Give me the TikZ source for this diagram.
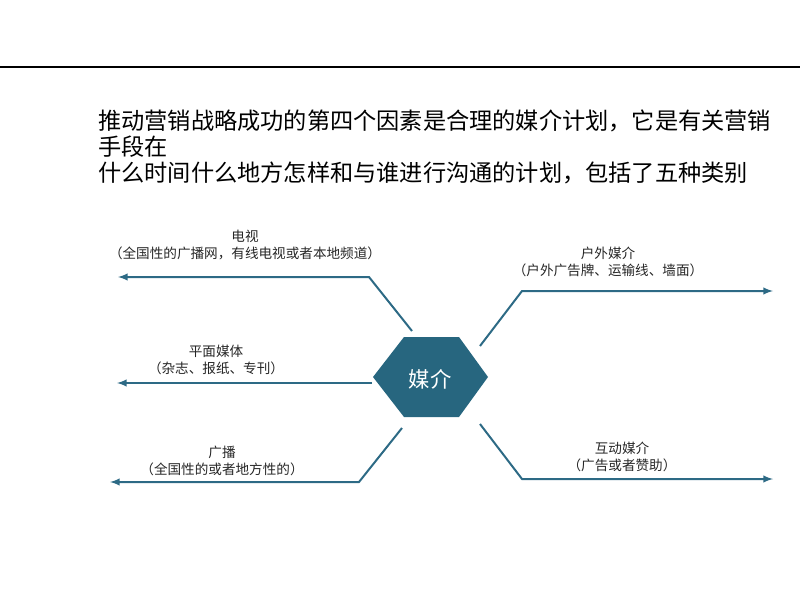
\documentclass[tikz,border=0pt]{standalone}
\usepackage{fontspec}
\setmainfont{Noto Sans CJK SC}
\definecolor{hexteal}{HTML}{27667F}
\definecolor{linkteal}{HTML}{2D6A85}
\tikzset{
 rule/.style={black,line width=1.1pt},
 branch/.style={linkteal,line width=1.5pt,-latex},
 mtext/.style={text=black!85,align=center,inner sep=0pt,font=\fontsize{10.2}{12.5}\selectfont},
 headline/.style={anchor=west,align=left,inner sep=0pt,font=\fontsize{17.4}{19.5}\selectfont},
 hextext/.style={text=white,inner sep=0pt,font=\fontsize{16}{18}\selectfont}
}
\newcommand{\medium}[4]{%
 \node[mtext] ({#1}) at ({#2}) {#3\\#4};%
}

\begin{document}
\begin{tikzpicture}[x=0.75pt,y=-0.75pt]
  \useasboundingbox (0,0) rectangle (800,600);
  \draw[rule] (0,67) -- (800,67);
  \node[headline] (head) at (98,147) {推动营销战略成功的第四个因素是合理的媒介计划，它是有关营销\\手段在\\什么时间什么地方怎样和与谁进行沟通的计划，包括了五种类别};
  % hexagon in the middle
  \fill[hexteal] (373,377) -- (404,337) -- (459,337) -- (488,377) -- (459,417) -- (404,417) -- cycle;
  \node[hextext] (media) at (430,379) {媒介};
  % captions
  \medium{tv}{245,245}{电视}{（全国性的广播网，有线电视或者本地频道）};
  \medium{print}{216,360}{平面媒体}{（杂志、报纸、专刊）};
  \medium{radio}{222,461}{广播}{（全国性的或者地方性的）};
  \medium{outdoor}{608,262}{户外媒介}{（户外广告牌、运输线、墙面）};
  \medium{interact}{622,457}{互动媒介}{（广告或者赞助）};
  % branch points
  \coordinate (tvs) at (412,331);  \coordinate (tvk) at (369,277);  \coordinate (tve) at (118,277);
  \coordinate (prs) at (372,383);  \coordinate (pre) at (117,383);
  \coordinate (ras) at (402,428);  \coordinate (rak) at (359,482);  \coordinate (rae) at (110,482);
  \coordinate (ous) at (480,346);  \coordinate (ouk) at (522,291);  \coordinate (oue) at (773,291);
  \coordinate (ins) at (480,424);  \coordinate (ink) at (522,479);  \coordinate (ine) at (773,479);
  \draw[branch] (tvs) -- (tvk) -- (tve);
  \draw[branch] (prs) -- (pre);
  \draw[branch] (ras) -- (rak) -- (rae);
  \draw[branch] (ous) -- (ouk) -- (oue);
  \draw[branch] (ins) -- (ink) -- (ine);
\end{tikzpicture}
\end{document}
